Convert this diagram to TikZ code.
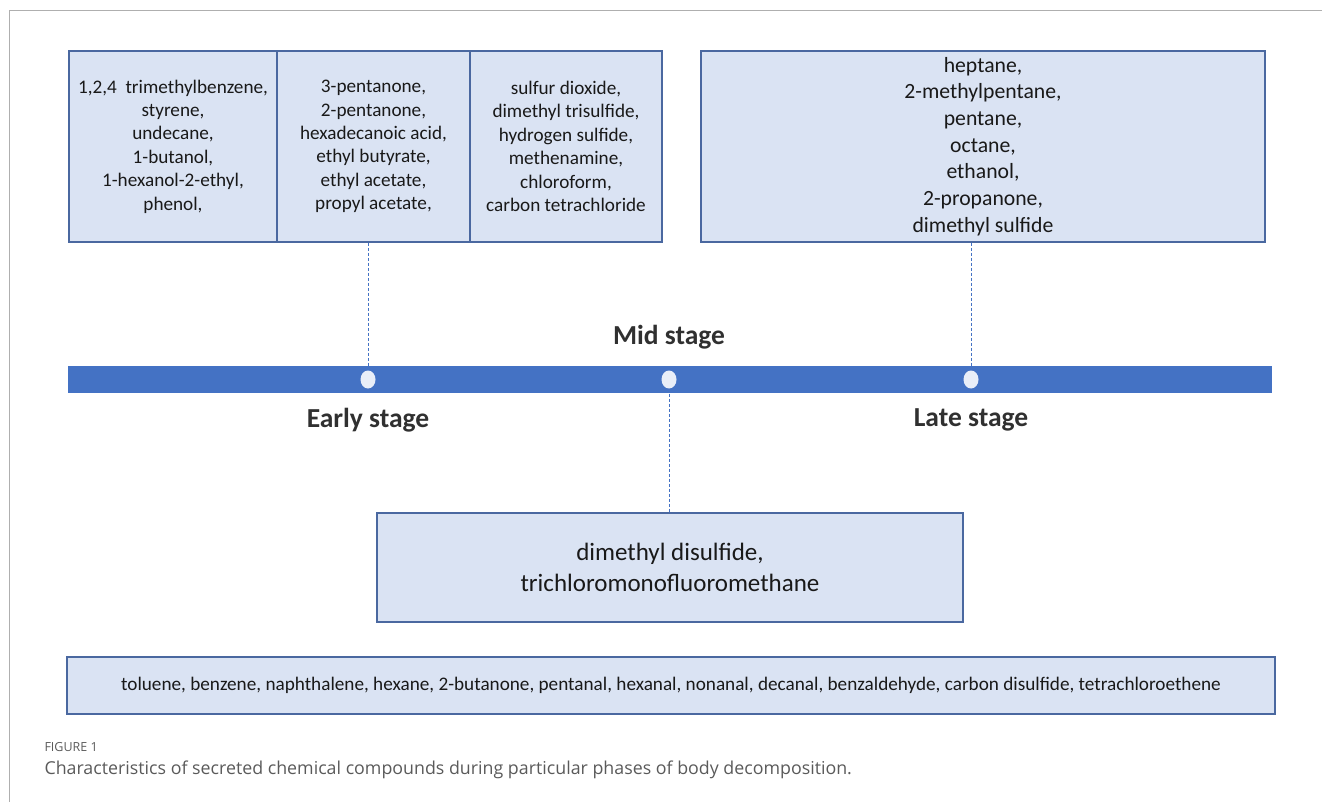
\documentclass[tikz,border=0pt]{standalone}
\usepackage{fontspec}
\setmainfont{Carlito}
\newfontfamily\captionfont{Open Sans}
\usepackage{tikz}
\usetikzlibrary{positioning,calc,shapes.geometric}
\definecolor{boxfill}{RGB}{218,227,243}
\definecolor{boxline}{RGB}{74,104,160}
\definecolor{barblue}{RGB}{68,114,196}
\definecolor{dotfill}{RGB}{233,238,248}
\definecolor{inktext}{RGB}{25,25,25}
\definecolor{framegray}{RGB}{175,175,175}
\definecolor{capgray}{RGB}{90,90,90}
\tikzset{
  listbox/.style={
    draw=boxline,fill=boxfill,line width=1.2pt,align=center,inner sep=0pt,
    text=inktext
  },
  smallbox/.style={listbox,font=\fontsize{19.2}{23.4}\selectfont},
  stagedot/.style={ellipse,fill=dotfill,minimum width=15pt,minimum height=18pt,inner sep=0pt},
  stagelabel/.style={font=\fontsize{27.5}{30}\selectfont\bfseries,text=inktext!90},
  dashlink/.style={draw=barblue,dash pattern=on 3pt off 2pt,line width=1pt}
}
\begin{document}
\begin{tikzpicture}[x=1pt,y=-1pt]
  \useasboundingbox (0,0) rectangle (1322,802);
  % page frame
  \draw[framegray,line width=1pt] (9,802) -- (9,11) -- (1322,11);
  % early stage compounds
  \node[smallbox,minimum width=208pt,minimum height=191pt] (grpA) at (173,146.5)
    {1,2,4\ \ trimethylbenzene,\\styrene,\\undecane,\\1-butanol,\\1-hexanol-2-ethyl,\\phenol,};
  \node[smallbox,minimum width=193pt,minimum height=191pt] (grpB) at (373.5,146.5)
    {3-pentanone,\\2-pentanone,\\hexadecanoic acid,\\ethyl butyrate,\\ethyl acetate,\\propyl acetate,};
  \node[smallbox,minimum width=192pt,minimum height=191pt] (grpC) at (566,146.5)
    {sulfur dioxide,\\dimethyl trisulfide,\\hydrogen sulfide,\\methenamine,\\chloroform,\\carbon tetrachloride};
  % late stage compounds
  \node[listbox,font=\fontsize{21.7}{26.7}\selectfont,minimum width=564pt,minimum height=191pt]
    (late) at (983,146.5)
    {heptane,\\2-methylpentane,\\pentane,\\octane,\\ethanol,\\2-propanone,\\dimethyl sulfide};
  % timeline
  \node[fill=barblue,minimum width=1204pt,minimum height=27pt,inner sep=0pt] (bar) at (670,379.5) {};
  \node[stagedot] (dotE) at (368,379.5) {};
  \node[stagedot] (dotM) at (669,379.5) {};
  \node[stagedot] (dotL) at (971,379.5) {};
  \node[stagelabel] (lblM) at (669,337) {Mid stage};
  \node[stagelabel] (lblE) at (368,420) {Early stage};
  \node[stagelabel] (lblL) at (971,420) {Late stage};
  % mid stage compounds
  \node[listbox,font=\fontsize{25}{31}\selectfont,minimum width=586pt,minimum height=109pt]
    (mid) at (670,567.5) {dimethyl disulfide,\\trichloromonofluoromethane};
  % all stages
  \node[listbox,font=\fontsize{19.2}{20}\selectfont,minimum width=1208pt,minimum height=57pt]
    (all) at (671,685.5)
    {toluene, benzene, naphthalene, hexane, 2-butanone, pentanal, hexanal, nonanal, decanal, benzaldehyde, carbon disulfide, tetrachloroethene};
  % connectors
  \draw[dashlink] (dotE |- grpB.south) -- (dotE.north);
  \draw[dashlink] (dotL |- late.south) -- (dotL.north);
  \draw[dashlink] (dotM.south) -- (dotM |- mid.north);
  % caption
  \node[anchor=west,font=\captionfont\fontsize{12.5}{14}\selectfont,text=capgray] (figno) at (41,747) {FIGURE 1};
  \node[anchor=west,font=\captionfont\fontsize{17.8}{20}\selectfont,text=capgray] (caption) at (41,770)
    {Characteristics of secreted chemical compounds during particular phases of body decomposition.};
\end{tikzpicture}
\end{document}
